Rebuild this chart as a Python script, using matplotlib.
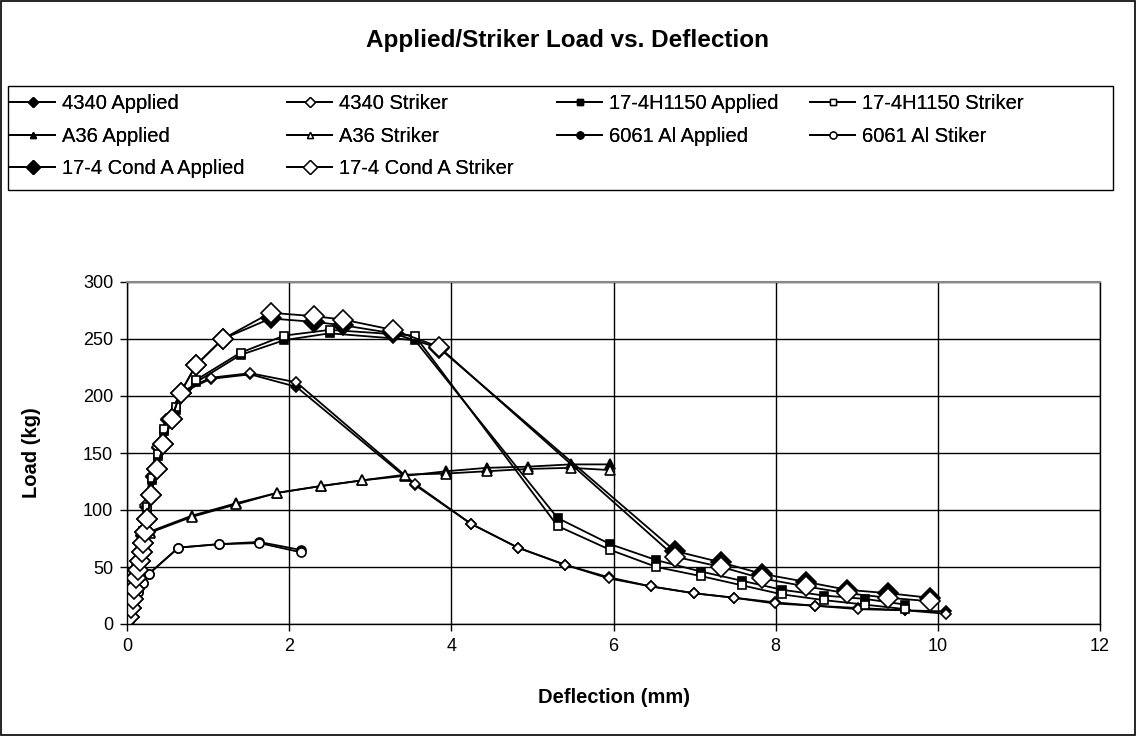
# Applied/Striker load vs. deflection chart (Excel style)

import matplotlib
matplotlib.use("Agg")
import matplotlib.pyplot as plt
from matplotlib.lines import Line2D
from matplotlib.patches import Rectangle

plt.rcParams['font.family'] = ['Liberation Sans', 'DejaVu Sans']

# 4340
x_4340 = [0.02, 0.05, 0.08, 0.12, 0.17, 0.22, 0.29, 0.37, 0.48, 0.68, 1.03, 1.52, 2.09,
          3.55, 4.24, 4.82, 5.40, 5.94, 6.46, 6.99, 7.49, 7.99, 8.49, 9.02, 9.60, 10.10]
y_4340_app = [5, 16, 31, 51, 77, 103, 129, 154, 179, 203, 215, 219, 208,
              122, 88, 67, 52, 41, 33, 27, 23, 19, 16, 14, 12, 11]
y_4340_str = [5, 16, 32, 52, 78, 104, 130, 155, 180, 204, 216, 220, 212,
              123, 88, 67, 52, 40, 33, 27, 23, 18, 16, 13, 12, 9]

# 17-4H1150
x_h1150 = [0.03, 0.07, 0.11, 0.15, 0.20, 0.245, 0.31, 0.385, 0.46, 0.61, 0.85, 1.40, 1.94,
           2.50, 3.55, 5.31, 5.96, 6.53, 7.08, 7.58, 8.08, 8.59, 9.10, 9.60]
y_h1150_app = [6, 21, 41, 61, 81, 101, 126, 147, 169, 188, 212, 236, 249,
               255, 249, 93, 70, 56, 46, 38, 30, 25, 22, 17]
y_h1150_str = [6, 22, 42, 62, 82, 103, 128, 149, 171, 190, 214, 238, 253,
               258, 253, 86, 65, 50, 42, 34, 26, 21, 17, 13]

# A36
x_a36 = [0.02, 0.06, 0.10, 0.15, 0.20, 0.28, 0.80, 1.35, 1.85, 2.39, 2.90, 3.43,
         3.94, 4.44, 4.94, 5.47, 5.96]
y_a36_app = [5, 20, 38, 56, 69, 81, 95, 106, 115, 121, 126, 130, 134, 137, 138, 140, 140]
y_a36_str = [5, 20, 38, 55, 68, 80, 94, 105, 115, 121, 126, 131, 132, 134, 136, 137, 135]

# 6061 Al
x_6061 = [0.02, 0.05, 0.09, 0.14, 0.20, 0.27, 0.635, 1.13, 1.63, 2.14]
y_6061_app = [4, 12, 20, 28, 36, 44, 67, 70, 72, 65]
y_6061_str = [4, 12, 20, 28, 36, 44, 67, 70, 71, 63]

# 17-4 Cond A
x_conda = [0.03, 0.05, 0.07, 0.09, 0.11, 0.14, 0.16, 0.18, 0.20, 0.22, 0.25, 0.29, 0.37,
           0.45, 0.55, 0.66, 0.85, 1.18, 1.77, 2.31, 2.67, 3.28, 3.85,
           6.76, 7.33, 7.83, 8.37, 8.88, 9.39, 9.90]
y_conda_app = [6, 14, 22, 31, 40, 47, 55, 63, 71, 81, 92, 113, 136,
               158, 180, 203, 227, 250, 268, 265, 262, 255, 242,
               64, 54, 44, 37, 30, 27, 23]
y_conda_str = [6, 14, 22, 31, 40, 47, 55, 63, 71, 81, 92, 113, 136,
               158, 180, 203, 227, 250, 273, 270, 267, 258, 243,
               59, 50, 40, 33, 27, 23, 20]

x_ticks = [0, 2, 4, 6, 8, 10, 12]
y_ticks = [0, 50, 100, 150, 200, 250, 300]

W, H = 1136, 736
fig = plt.figure(figsize=(W / 100, H / 100), dpi=100)
ax = fig.add_axes([127 / W, 1 - 624 / H, 973 / W, 342 / H])

# (label, x, y, marker, size, filled)
series = [
    ("4340 Applied", x_4340, y_4340_app, "D", 5.5, True),
    ("4340 Striker", x_4340, y_4340_str, "D", 5.5, False),
    ("17-4H1150 Applied", x_h1150, y_h1150_app, "s", 6, True),
    ("17-4H1150 Striker", x_h1150, y_h1150_str, "s", 6, False),
    ("A36 Applied", x_a36, y_a36_app, "^", 7.5, True),
    ("A36 Striker", x_a36, y_a36_str, "^", 7.5, False),
    ("6061 Al Applied", x_6061, y_6061_app, "o", 6.5, True),
    ("6061 Al Stiker", x_6061, y_6061_str, "o", 6.5, False),
    ("17-4 Cond A Applied", x_conda, y_conda_app, "D", 10, True),
    ("17-4 Cond A Striker", x_conda, y_conda_str, "D", 10, False),
]

handles = {}
for label, xs, ys, mk, ms, filled in series:
    face = "black" if filled else "white"
    ax.plot(xs, ys, color="black", lw=1.3, marker=mk, ms=ms,
            mfc=face, mec="black", mew=1.2)
    legend_ms = 7 if mk == "D" and ms > 8 else 5
    handles[label] = Line2D([], [], color="black", lw=1.3, marker=mk, ms=legend_ms,
                            mfc=face, mec="black", mew=1)

ax.set_xlim(0, 12)
ax.set_ylim(0, 300)
ax.set_xticks(x_ticks)
ax.set_yticks(y_ticks)
ax.grid(True, color="black", lw=1)
ax.set_axisbelow(True)
for sp in ax.spines.values():
    sp.set_color("black")
    sp.set_linewidth(1)
ax.spines["top"].set_color("#888888")
ax.spines["top"].set_linewidth(1.5)
ax.tick_params(direction="out", length=5, width=1, labelsize=13, colors="black", pad=5)
ax.set_xlabel("Deflection (mm)", fontsize=14.5, fontweight="bold", labelpad=24)
ax.set_ylabel("Load (kg)", fontsize=14.5, fontweight="bold", labelpad=30)

fig.text(0.5, 1 - 40 / H, "Applied/Striker Load vs. Deflection",
         ha="center", va="center", fontsize=17.5, fontweight="bold")

# Excel-like legend: one small legend per column, inside a common box
columns = [
    (10, ["4340 Applied", "A36 Applied", "17-4 Cond A Applied"]),
    (287, ["4340 Striker", "A36 Striker", "17-4 Cond A Striker"]),
    (557, ["17-4H1150 Applied", "6061 Al Applied"]),
    (810, ["17-4H1150 Striker", "6061 Al Stiker"]),
]
for x0, names in columns:
    leg = fig.legend([handles[k] for k in names], names, loc="upper left",
                     bbox_to_anchor=(x0 / W, 1 - 94 / H), frameon=False,
                     fontsize=14.5, handlelength=2.25, handletextpad=0.35,
                     labelspacing=0.68, borderpad=0, borderaxespad=0)
    fig.add_artist(leg)

fig.patches.append(Rectangle((8 / W, 1 - 190 / H), 1105 / W, 104 / H,
                             transform=fig.transFigure, fill=False,
                             edgecolor="black", lw=1))

# outer chart border
fig.patches.append(Rectangle((0.001, 0.001), 0.998, 0.998, transform=fig.transFigure,
                             fill=False, edgecolor="black", lw=1.2))

fig.savefig("out.png", dpi=100)
